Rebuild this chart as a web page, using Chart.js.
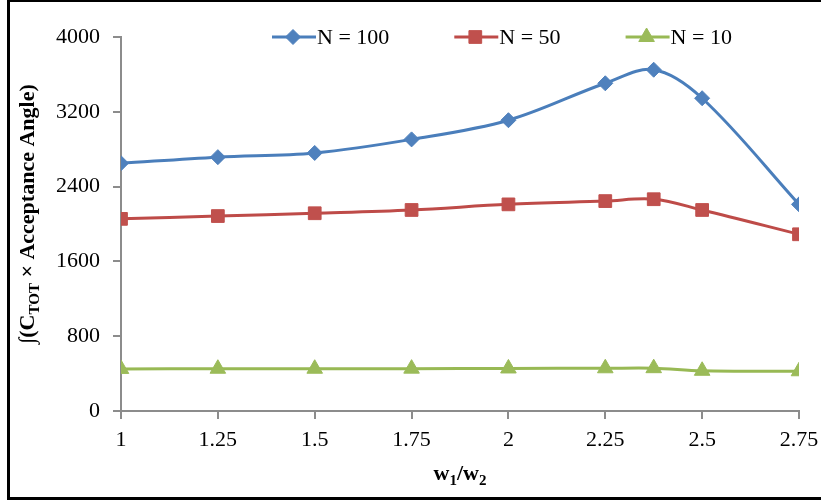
<!DOCTYPE html>
<html><head><meta charset="utf-8">
<script src="https://cdn.jsdelivr.net/npm/chart.js@4/dist/chart.umd.min.js"></script>
<style>html,body{margin:0;padding:0;background:#fff}#wrap{width:821px;height:500px;position:relative}</style>
</head><body><div id="wrap"><canvas id="c" width="821" height="500"></canvas></div>
<script>
// ---- data ----
const xValues = [1, 1.25, 1.5, 1.75, 2, 2.25, 2.375, 2.5, 2.75];
const n100 = [2650, 2715, 2760, 2905, 3110, 3505, 3650, 3345, 2210];
const n50  = [2055, 2085, 2115, 2150, 2210, 2245, 2265, 2150, 1890];
const n10  = [450, 452, 452, 453, 455, 457, 458, 430, 425];
const seriesNames = ['N = 100', 'N = 50', 'N = 10'];
const xTicks = [1, 1.25, 1.5, 1.75, 2, 2.25, 2.5, 2.75];
const yTicks = [0, 800, 1600, 2400, 3200, 4000];

const FONT = "'Liberation Serif', 'Times New Roman', serif";
Chart.defaults.font.family = FONT;
Chart.defaults.color = '#000';

const styles = [
  {line: '#4A7EBB', fill: '#4F81BD', pointStyle: 'rectRot', radius: 7.5},
  {line: '#BE4B48', fill: '#C0504D', pointStyle: 'rect', radius: 9},
  {line: '#98B954', fill: '#9BBB59', pointStyle: 'triangle', radius: 9}
];
const seriesValues = [n100, n50, n10];

const datasets = seriesValues.map((vals, i) => ({
  label: seriesNames[i],
  data: xValues.map((x, j) => ({x: x, y: vals[j]})),
  borderColor: styles[i].line,
  backgroundColor: styles[i].fill,
  pointBackgroundColor: styles[i].fill,
  pointBorderColor: styles[i].fill,
  pointBorderWidth: 1,
  pointStyle: styles[i].pointStyle,
  pointRadius: styles[i].radius,
  borderWidth: 3,
  tension: 0.35,
  fill: false
}));

const decor = {
  id: 'decor',
  beforeDraw(chart) {
    const ctx = chart.ctx;
    ctx.save();
    ctx.fillStyle = '#fff';
    ctx.fillRect(0, 0, chart.width, chart.height);
    ctx.fillStyle = '#000';
    ctx.fillRect(7, 0, 3, 500);
    ctx.fillRect(7, 0, 814, 2);
    ctx.fillRect(7, 497, 814, 3);
    ctx.restore();
  },
  afterDraw(chart) {
    const ctx = chart.ctx;
    const ca = chart.chartArea;
    // legend
    ctx.save();
    ctx.font = '22px ' + FONT;
    ctx.textBaseline = 'middle';
    ctx.textAlign = 'left';
    let lx = ca.left + 151;
    const ly = ca.top;
    chart.data.datasets.forEach((ds, i) => {
      ctx.strokeStyle = styles[i].line;
      ctx.lineWidth = 3;
      ctx.beginPath();
      ctx.moveTo(lx, ly);
      ctx.lineTo(lx + 44, ly);
      ctx.stroke();
      ctx.fillStyle = styles[i].fill;
      ctx.strokeStyle = styles[i].fill;
      ctx.lineWidth = 1;
      Chart.helpers.drawPoint(ctx, {pointStyle: styles[i].pointStyle, radius: styles[i].radius, rotation: 0, borderWidth: 1}, lx + 21, ly);
      ctx.fillStyle = '#000';
      ctx.fillText(ds.label, lx + 45, ly + 1);
      lx += 45 + ctx.measureText(ds.label).width + 65;
    });
    ctx.restore();

    // y title with subscript
    ctx.save();
    const big = 'bold 22px ' + FONT, small = 'bold 15px ' + FONT;
    const parts = [
      {t: '\u222B(C', f: big, dy: 0},
      {t: 'TOT', f: small, dy: 5},
      {t: ' \u00D7 Acceptance Angle)', f: big, dy: 0}
    ];
    let total = 0;
    parts.forEach(p => { ctx.font = p.f; p.w = ctx.measureText(p.t).width; total += p.w; });
    ctx.translate(34, ca.top + 177);
    ctx.rotate(-Math.PI / 2);
    ctx.textBaseline = 'alphabetic';
    ctx.textAlign = 'left';
    ctx.fillStyle = '#000';
    let px = -total / 2;
    parts.forEach(p => { ctx.font = p.f; ctx.fillText(p.t, px, p.dy); px += p.w; });
    ctx.restore();

    // x title with subscripts
    ctx.save();
    const xparts = [
      {t: 'w', f: big, dy: 0},
      {t: '1', f: small, dy: 5},
      {t: '/w', f: big, dy: 0},
      {t: '2', f: small, dy: 5}
    ];
    let xt = 0;
    xparts.forEach(p => { ctx.font = p.f; p.w = ctx.measureText(p.t).width; xt += p.w; });
    let sx = (ca.left + ca.right) / 2 - xt / 2;
    ctx.textBaseline = 'alphabetic';
    ctx.fillStyle = '#000';
    xparts.forEach(p => { ctx.font = p.f; ctx.fillText(p.t, sx, 480 + p.dy); sx += p.w; });
    ctx.restore();
  }
};

new Chart(document.getElementById('c'), {
  type: 'line',
  data: {datasets: datasets},
  plugins: [decor],
  options: {
    responsive: false,
    devicePixelRatio: 1,
    animation: false,
    layout: {padding: {left: 0, right: 22, top: 37, bottom: 0}},
    plugins: {legend: {display: false}, tooltip: {enabled: false}},
    scales: {
      x: {
        type: 'linear',
        min: 1, max: 2.75,
        afterBuildTicks: s => { s.ticks = xTicks.map(v => ({value: v})); },
        afterFit: s => { s.height = 89; s.paddingLeft = 0; s.paddingRight = 0; },
        grid: {drawOnChartArea: false, drawTicks: true, tickLength: 8, color: '#8c8c8c', lineWidth: 2},
        border: {display: true, color: '#8c8c8c', width: 2},
        ticks: {font: {size: 22}, color: '#000', padding: 8, maxRotation: 0, callback: v => String(v)}
      },
      y: {
        min: 0, max: 4000,
        afterBuildTicks: s => { s.ticks = yTicks.map(v => ({value: v})); },
        afterFit: s => { s.width = 121; s.paddingTop = 0; s.paddingBottom = 0; },
        grid: {drawOnChartArea: false, drawTicks: true, tickLength: 8, color: '#8c8c8c', lineWidth: 2},
        border: {display: true, color: '#8c8c8c', width: 2},
        ticks: {font: {size: 22}, color: '#000', padding: 13, callback: v => String(v)}
      }
    }
  }
});
</script></body></html>
